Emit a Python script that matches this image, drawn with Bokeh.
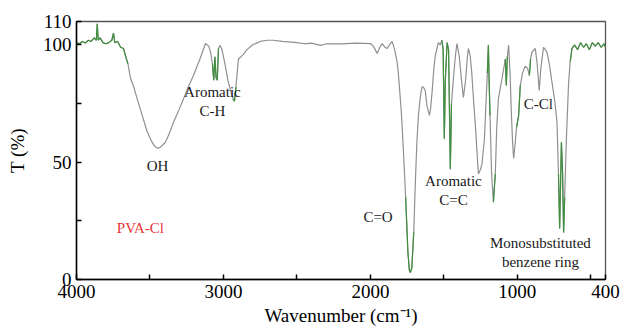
from bokeh.plotting import figure
from bokeh.models import FixedTicker, Range1d
from bokeh.core.properties import value
from bokeh.embed import file_html
from bokeh.resources import INLINE

# ---- data ----
wavenumber = [4000, 3980, 3960, 3940, 3920, 3900, 3880, 3865, 3859, 3852, 3840, 3820, 3800, 3780,
              3760, 3748, 3740, 3720, 3700, 3680, 3665, 3650, 3633, 3610, 3587, 3553, 3519, 3490,
              3470, 3451, 3430, 3395, 3370, 3340, 3305, 3272, 3240, 3204, 3160, 3122, 3100, 3088,
              3075, 3066, 3058, 3050, 3042, 3034, 3022, 3010, 2990, 2970, 2950, 2935, 2925, 2915,
              2898, 2880, 2864, 2840, 2803, 2750, 2700, 2660, 2600, 2500, 2450, 2400, 2340, 2300,
              2200, 2100, 2000, 1980, 1954, 1935, 1920, 1900, 1886, 1870, 1852, 1835, 1818, 1810,
              1790, 1776, 1760, 1745, 1735, 1728, 1718, 1705, 1694, 1684, 1673, 1660, 1649, 1639,
              1627, 1615, 1598, 1590, 1580, 1568, 1558, 1545, 1537, 1525, 1513, 1505, 1497, 1490,
              1478, 1468, 1456, 1448, 1435, 1422, 1411, 1395, 1380, 1367, 1352, 1340, 1333, 1320,
              1310, 1299, 1285, 1275, 1265, 1250, 1240, 1224, 1210, 1204, 1197, 1192, 1186, 1175,
              1163, 1150, 1140, 1129, 1115, 1104, 1082, 1075, 1068, 1059, 1048, 1040, 1032, 1025,
              1015, 1005, 991, 980, 965, 946, 930, 918, 910, 900, 878, 865, 851, 840, 822, 810,
              799, 780, 764, 745, 730, 720, 712, 706, 700, 692, 685, 678, 667, 651, 640, 628,
              610, 590, 570, 550, 530, 510, 490, 470, 450, 430, 410, 400]
transmittance = [101, 100.5, 101.5, 100.8, 102, 101.5, 103, 102, 109, 102, 103, 101, 100.5, 101,
                 102, 105, 101, 101.5, 99, 98.5, 95, 92, 86, 82, 77, 70, 63, 59,
                 57, 56, 56.3, 58.5, 62, 67, 72, 77, 82, 87, 94, 100.6, 99.5, 97,
                 92, 85, 95, 86, 85, 98.5, 99.8, 98, 92, 85, 80, 77, 76, 82,
                 94, 95, 96, 98, 100, 101.5, 102, 102, 101.5, 101, 100.5, 100.8, 99.8, 100.5,
                 100.5, 100.8, 100.6, 99.5, 96.4, 99, 100.6, 99, 98.5, 100, 101.5, 98, 92.7, 88,
                 72, 56, 35, 12, 4, 3, 5, 20, 41.5, 58, 70, 78, 82, 82,
                 80.6, 74, 70, 73, 80, 90, 95.5, 99, 101, 100, 102, 98, 60, 85,
                 101, 98, 47, 75, 85.7, 95, 100.6, 95, 85, 77.6, 85, 95, 98.5, 95,
                 88, 77.6, 65, 55, 45, 47, 49.5, 60, 80, 88, 100, 85, 70, 45,
                 33, 45, 65, 77, 82, 85.7, 94, 82.7, 95, 100, 85, 70, 58, 51.6,
                 58, 65, 70, 82.7, 88, 91, 90, 87, 94, 97, 98.5, 92, 80.6, 90, 99, 98,
                 97, 91, 84, 76, 67, 45, 21.7, 40, 58.5, 45, 20, 35, 58.5, 84, 93, 98.5,
                 100, 98, 101, 99, 100.5, 98, 101, 99.5, 101, 99, 100.5, 99]

# wavenumber intervals drawn in green (sharp / noisy parts of the trace)
green_ranges = [(4000, 3640), (3075, 3034), (2935, 2915), (1760, 1705), (1513, 1440),
                (1204, 1186), (1170, 1150), (1082, 1068), (1010, 975), (925, 905),
                (722, 676), (640, 400)]

x_ticks = [4000, 3500, 3000, 2500, 2000, 1500, 1000, 500, 400]
x_tick_labels = {4000: "4000", 3500: "", 3000: "3000", 2500: "", 2000: "2000",
                 1500: "", 1000: "1000", 500: "", 400: "400"}
y_ticks = [0, 25, 50, 75, 100, 110]
y_tick_labels = {0: "0", 25: "", 50: "50", 75: "", 100: "100", 110: "110"}

ann_text = ["Aromatic", "C-H", "OH", "C=O", "Aromatic", "C=C", "C-Cl",
            "Monosubstituted", "benzene ring"]
ann_x = [3075, 3075, 3449, 1948, 1435, 1435, 857, 843, 843]
ann_y = [80, 72, 48.5, 26.5, 42, 34, 75, 15.4, 7.4]
sample_name = "PVA-Cl"
sample_x = 3565
sample_y = 22

SERIF = "Liberation Serif"

p = figure(width=624, height=336, x_range=Range1d(4000, 400), y_range=Range1d(0, 110),
           output_backend="svg", toolbar_location=None,
           min_border_left=76, min_border_right=19, min_border_top=21, min_border_bottom=57)
p.grid.visible = False
p.outline_line_color = "#555555"
p.outline_line_width = 1.3
p.background_fill_color = "white"
p.border_fill_color = "white"

# main trace
p.line(wavenumber, transmittance, line_color="#909090", line_width=1.2)

# green overlays
gx, gy = [], []
for hi, lo in green_ranges:
    xs = [w for w in wavenumber if lo <= w <= hi]
    ys = [t for w, t in zip(wavenumber, transmittance) if lo <= w <= hi]
    gx.append(xs)
    gy.append(ys)
p.multi_line(gx, gy, line_color="#3f8f3f", line_width=1.2)

# annotations
p.text(ann_x, ann_y, text=ann_text, text_font=value(SERIF), text_font_size="15px",
       text_align="center", text_baseline="middle", text_color="#1a1a1a")
p.text([sample_x], [sample_y], text=[sample_name], text_font=value(SERIF),
       text_font_size="15px", text_align="center", text_baseline="middle",
       text_color="#e8343c")

# axes
for ax in (p.xaxis[0], p.yaxis[0]):
    ax.axis_line_color = "black"
    ax.axis_line_width = 1.5
    ax.major_tick_line_color = "black"
    ax.major_tick_line_width = 1.5
    ax.major_tick_in = 5
    ax.major_tick_out = 0
    ax.minor_tick_line_color = None
    ax.major_label_text_font = SERIF
    ax.major_label_text_font_size = "19px"
    ax.major_label_text_color = "black"

p.xaxis.ticker = FixedTicker(ticks=x_ticks)
p.xaxis.major_label_overrides = x_tick_labels
p.xaxis.major_label_standoff = 5
p.xaxis.axis_label = "Wavenumber (cm\u207b\u00b9)"
p.xaxis.axis_label_text_font = SERIF
p.xaxis.axis_label_text_font_size = "19px"
p.xaxis.axis_label_text_font_style = "normal"
p.xaxis.axis_label_text_color = "black"
p.xaxis.axis_label_standoff = 4

p.yaxis.ticker = FixedTicker(ticks=y_ticks)
p.yaxis.major_label_overrides = y_tick_labels
p.yaxis.major_label_standoff = 5
p.yaxis.axis_label = "T (%)"
p.yaxis.axis_label_text_font = SERIF
p.yaxis.axis_label_text_font_size = "19px"
p.yaxis.axis_label_text_font_style = "normal"
p.yaxis.axis_label_text_color = "black"
p.yaxis.axis_label_standoff = 12

open("out.html", "w").write(file_html(p, INLINE))
